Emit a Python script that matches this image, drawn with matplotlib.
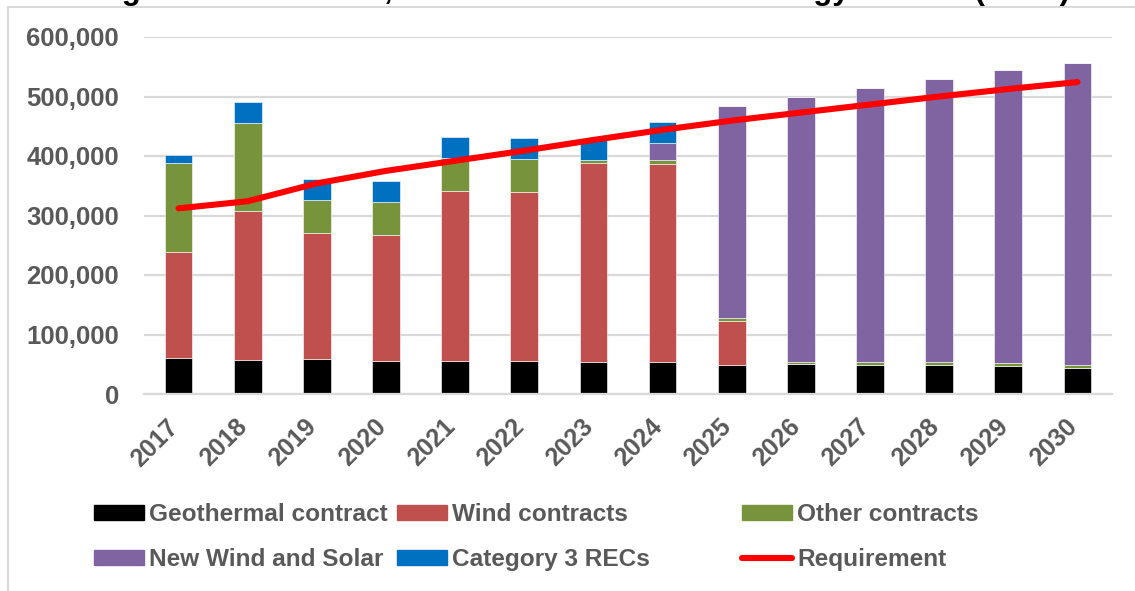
import numpy as np
import matplotlib
matplotlib.use("Agg")
import matplotlib.pyplot as plt
import matplotlib.transforms as mtransforms
from matplotlib.patches import Patch
from matplotlib.lines import Line2D

plt.rcParams['font.family'] = ['Liberation Sans', 'DejaVu Sans']

years = ['2017', '2018', '2019', '2020', '2021', '2022', '2023',
         '2024', '2025', '2026', '2027', '2028', '2029', '2030']
geothermal = [60000, 57000, 58000, 55000, 56000, 55000, 53000,
              53000, 48000, 50000, 49000, 49000, 47000, 44000]
wind = [179000, 250000, 213000, 212000, 285000, 285000, 336000,
        334000, 75000, 0, 0, 0, 0, 0]
other = [149000, 148500, 55600, 55300, 55300, 55200, 5000,
         5500, 4000, 4400, 4600, 4400, 5000, 5400]
new_wind_solar = [0, 0, 0, 0, 0, 0, 0,
                  29500, 357700, 444000, 460000, 475600, 491700, 507600]
cat3_recs = [14500, 35800, 34800, 36000, 35200, 34700, 33000,
             34600, 0, 0, 0, 0, 0, 0]
requirement = [312000, 324000, 354000, 375000, 392000, 409000, 427000,
               444000, 459500, 473000, 486500, 500000, 512600, 524200]

grey = '#595959'
grid_c = '#D9D9D9'

fig = plt.figure(figsize=(11.35, 5.91), dpi=100)
ax = fig.add_axes([144 / 1135, 1 - 394 / 591, 968 / 1135, 357 / 591])

x = np.arange(len(years))
series = [
    ('Geothermal contract', geothermal, '#000000'),
    ('Wind contracts', wind, '#C0504D'),
    ('Other contracts', other, '#77933C'),
    ('New Wind and Solar', new_wind_solar, '#8064A2'),
    ('Category 3 RECs', cat3_recs, '#0070C0'),
]
bottom = np.zeros(len(years))
for name, vals, col in series:
    vals = np.array(vals, dtype=float)
    ax.bar(x, vals, 0.4, bottom=bottom, color=col, edgecolor='#ffffff',
           linewidth=0.4, zorder=2)
    bottom += vals

ax.plot(x, requirement, color='#FF0000', lw=4.4, solid_capstyle='round',
        solid_joinstyle='round', zorder=3)

ax.set_xlim(-0.5, len(years) - 0.5)
ax.set_ylim(0, 600000)
ax.set_yticks(np.arange(0, 600001, 100000))
ax.set_yticklabels([f'{v:,}' for v in range(0, 600001, 100000)])
ax.yaxis.grid(True, color=grid_c, lw=1.6, zorder=0)
ax.set_axisbelow(True)
for s in ['top', 'right', 'left']:
    ax.spines[s].set_visible(False)
ax.spines['bottom'].set_color(grid_c)
ax.spines['bottom'].set_linewidth(1.6)
ax.tick_params(axis='y', length=0, pad=18, labelsize=18.5, labelcolor=grey)
ax.tick_params(axis='x', length=0, pad=21, labelsize=18, labelcolor=grey)
for lab in ax.get_yticklabels():
    lab.set_fontweight('bold')
ax.set_xticks(x)
ax.set_xticklabels(years, rotation=45, ha='right', va='center',
                   rotation_mode='anchor', fontweight='bold')
shift = mtransforms.ScaledTranslation(-4 / 100, 0, fig.dpi_scale_trans)
for lab in ax.get_xticklabels():
    lab.set_transform(lab.get_transform() + shift)

# chart frame (left and top edges visible in the crop)
fig.add_artist(Line2D([8 / 1135, 8 / 1135], [0, 1 - 7 / 591], color=grid_c, lw=1.5))
fig.add_artist(Line2D([8 / 1135, 1], [1 - 7 / 591, 1 - 7 / 591], color=grid_c, lw=1.5))

# title, mostly cut off at the top edge as in the source
fig.text(582 / 1135, 1 + 1 / 591,
         'Figure 5: Estimated, Sources of Renewable Energy Credits (MWh)',
         ha='center', va='baseline', fontsize=22.5, fontweight='bold', color='#000000')

# legend in three columns
cols = [
    (94, [Patch(color='#000000'), Patch(color='#8064A2')],
     ['Geothermal contract', 'New Wind and Solar']),
    (397, [Patch(color='#C0504D'), Patch(color='#0070C0')],
     ['Wind contracts', 'Category 3 RECs']),
    (742, [Patch(color='#77933C'),
           Line2D([0], [0], color='#FF0000', lw=4.4, solid_capstyle='round')],
     ['Other contracts', 'Requirement']),
]
for xpos, handles, labels in cols:
    leg = fig.legend(handles, labels, loc='upper left',
                     bbox_to_anchor=(xpos / 1135, 1 - 503 / 591),
                     frameon=False, borderpad=0, borderaxespad=0,
                     handlelength=2.05, handleheight=0.56, handletextpad=0.2,
                     labelspacing=0.92, prop={'size': 17.6, 'weight': 'bold'})
    for t in leg.get_texts():
        t.set_color(grey)

fig.savefig('out.png', dpi=100)
